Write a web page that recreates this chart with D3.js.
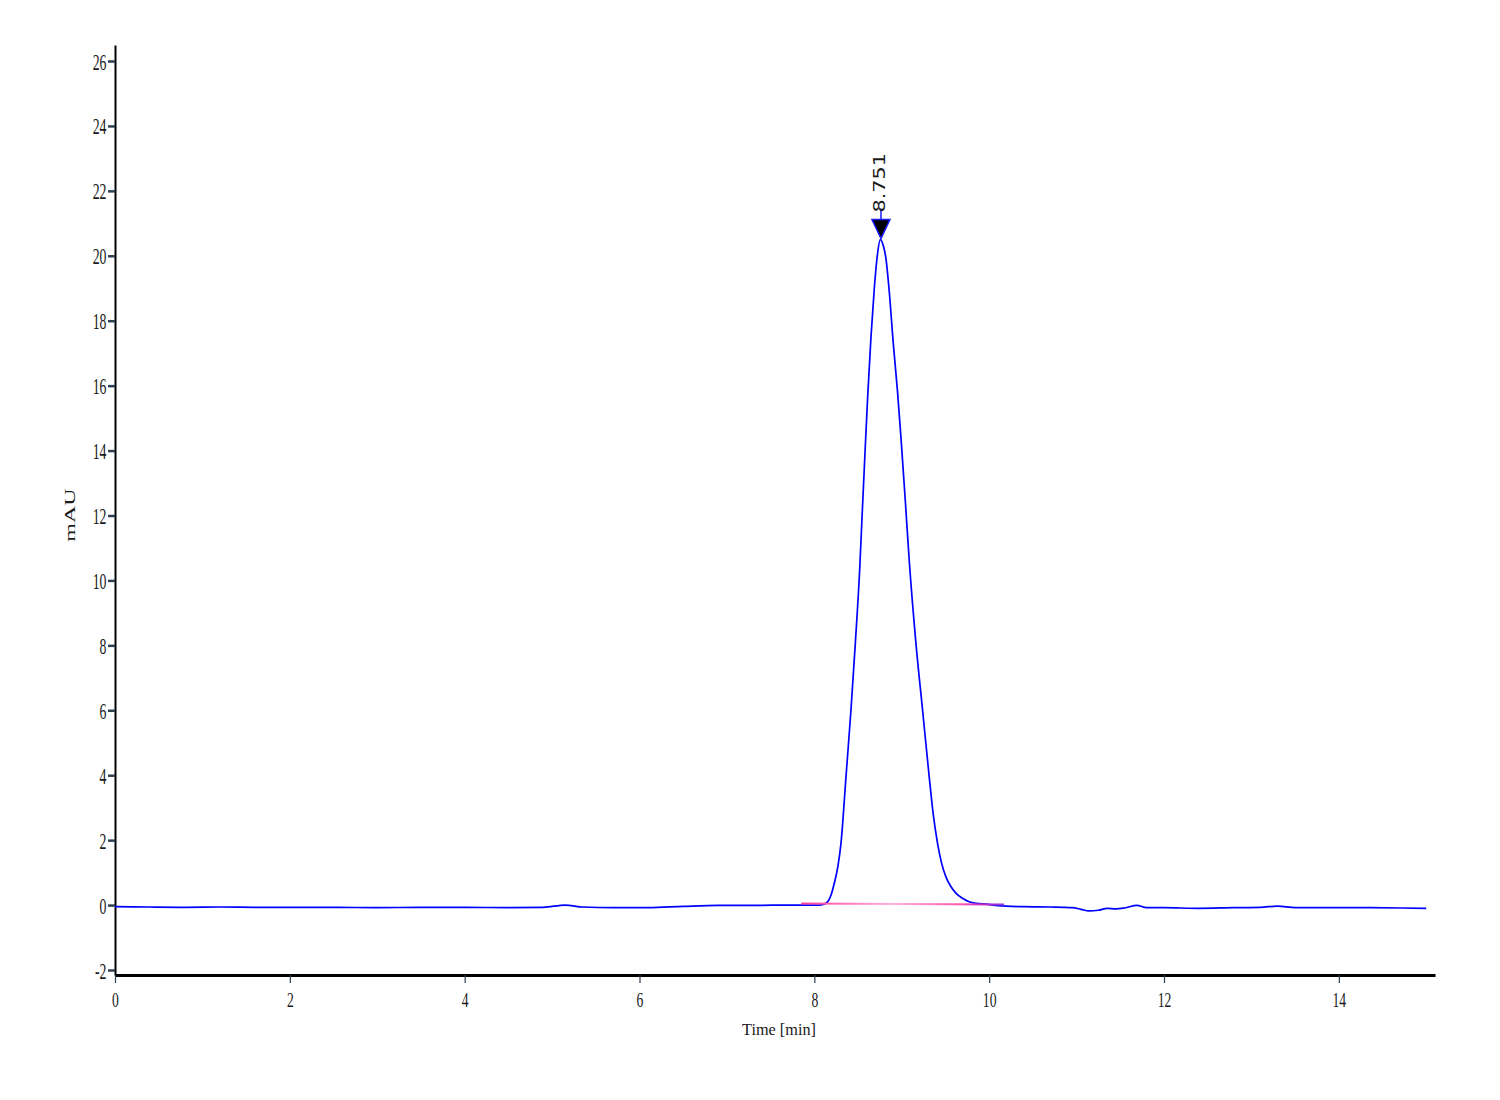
<!DOCTYPE html>
<html>
<head>
<meta charset="utf-8">
<script src="https://cdn.jsdelivr.net/npm/d3@7.9.0/dist/d3.min.js"></script>
<style>
  body { margin: 0; background: #fff; }
  text { font-family: "Liberation Serif", "Times New Roman", serif; fill: #1a1a1a; }
</style>
</head>
<body>
<div id="chart"></div>
<script>
// chromatogram signal (time in min, signal in mAU)
const times = [
  0, 0.4, 0.8, 1.2, 1.6, 2.0, 2.5, 3.0, 3.5, 4.0, 4.5, 4.9, 5.15, 5.35, 5.7, 6.1, 6.5, 6.9, 7.3, 7.7, 7.95,
  8.05, 8.1, 8.152, 8.19, 8.229, 8.27, 8.305, 8.362, 8.419, 8.469, 8.518, 8.545, 8.579, 8.609, 8.648, 8.686,
  8.72, 8.755, 8.79, 8.82, 8.857, 8.903, 8.952, 8.991, 9.037, 9.086, 9.162, 9.238, 9.314, 9.36, 9.409,
  9.455, 9.505, 9.56, 9.619, 9.7, 9.771, 9.86, 9.962,
  10.1, 10.4, 10.7, 10.95, 11.05, 11.14, 11.25, 11.35, 11.45, 11.55, 11.69, 11.8, 12.0, 12.4, 12.8, 13.1,
  13.3, 13.5, 13.9, 14.3, 14.7, 15.0
];
const signal = [
  -0.05, -0.06, -0.07, -0.06, -0.07, -0.07, -0.07, -0.08, -0.07, -0.07, -0.08, -0.07, 0.0, -0.06, -0.08, -0.08, -0.04, -0.01, -0.01, 0.0, 0.0,
  0.0, 0.02, 0.10, 0.3, 0.68, 1.2, 1.91, 3.95, 6.01, 8.07, 10.3, 11.9, 13.9, 15.6, 17.5, 19.0,
  20.0, 20.5, 20.3, 19.9, 18.9, 17.3, 15.8, 14.4, 12.6, 10.6, 8.07, 6.01, 3.95, 2.8, 1.91,
  1.3, 0.87, 0.58, 0.37, 0.2, 0.1, 0.05, 0.03,
  -0.02, -0.05, -0.06, -0.08, -0.13, -0.18, -0.16, -0.1, -0.12, -0.09, -0.01, -0.08, -0.08, -0.1, -0.08, -0.07,
  -0.03, -0.08, -0.08, -0.08, -0.09, -0.1
];

// integration baseline under the peak
const baseTimes = [7.85, 10.17];
const baseValues = [0.05, 0.02];

// peak annotation
const peakTime = 8.751;
const peakHeight = 20.5;
const peakLabel = "8.751";

const xTicks = [0, 2, 4, 6, 8, 10, 12, 14];
const yTicks = [-2, 0, 2, 4, 6, 8, 10, 12, 14, 16, 18, 20, 22, 24, 26];

const width = 1500, height = 1100;

const svg = d3.select("#chart")
  .append("svg")
  .attr("width", width)
  .attr("height", height);

const x = d3.scaleLinear().domain([0, 15.1]).range([115, 1435]);
const y = d3.scaleLinear().domain([-2, 26]).range([970, 61]);
// stretch the y domain so the axis line runs 45..975 like the picture
y.domain([y.invert(975), y.invert(45)]).range([975, 45]);

// x axis
const xAxis = svg.append("g")
  .attr("transform", "translate(0,975)")
  .call(d3.axisBottom(x).tickValues(xTicks).tickFormat(d => String(d)).tickSize(8).tickSizeOuter(0));
xAxis.select(".domain").attr("stroke", "#000").attr("stroke-width", 3);
xAxis.selectAll(".tick line").attr("stroke", "#2f3f4f").attr("stroke-width", 1.2);
xAxis.selectAll(".tick text")
  .attr("y", null).attr("dy", null)
  .attr("transform", "translate(0,32) scale(0.62,1)")
  .style("font-size", "22px")
  .attr("fill", "#1a1a1a");

// y axis
const yAxis = svg.append("g")
  .attr("transform", "translate(115,0)")
  .call(d3.axisLeft(y).tickValues(yTicks).tickFormat(d => String(d)).tickSize(7).tickSizeOuter(0));
yAxis.select(".domain").attr("stroke", "#000").attr("stroke-width", 2);
yAxis.selectAll(".tick line").attr("stroke", "#2f3f4f").attr("stroke-width", 2.5);
yAxis.selectAll(".tick text")
  .attr("x", null).attr("dy", null)
  .attr("transform", "translate(-8.5,8) scale(0.6,1)")
  .style("font-size", "23px")
  .attr("fill", "#1a1a1a");

// axis titles
svg.append("text")
  .attr("transform", "translate(779,1035) scale(0.93,1)")
  .attr("text-anchor", "middle")
  .style("font-size", "17.5px")
  .text("Time [min]");

svg.append("text")
  .attr("transform", "translate(74.5,515) rotate(-90) scale(1.6,1)")
  .attr("text-anchor", "middle")
  .style("font-size", "15px")
  .text("mAU");

// signal trace
const pts = times.map((t, i) => [t, signal[i]]);
const line = d3.line()
  .x(d => x(d[0]))
  .y(d => y(d[1]))
  .curve(d3.curveMonotoneX);

svg.append("path")
  .datum(pts)
  .attr("d", line)
  .attr("fill", "none")
  .attr("stroke", "#0000ff")
  .attr("stroke-width", 1.7);

// integration baseline (pink)
const grad = svg.append("defs").append("linearGradient")
  .attr("id", "baseGrad")
  .attr("gradientUnits", "userSpaceOnUse")
  .attr("x1", x(baseTimes[0])).attr("x2", x(baseTimes[1]))
  .attr("y1", 0).attr("y2", 0);
[[0, "#ff3d9e"], [0.45, "#ffb3da"], [0.78, "#ff5aae"], [0.9, "#c026c8"], [1, "#8a3ae0"]]
  .forEach(([o, c]) => grad.append("stop").attr("offset", o).attr("stop-color", c));

svg.append("path")
  .datum(baseTimes.map((t, i) => [t, baseValues[i]]))
  .attr("d", d3.line().x(d => x(d[0])).y(d => y(d[1])))
  .attr("fill", "none")
  .attr("stroke", "url(#baseGrad)")
  .attr("stroke-width", 2);

// peak marker
const px = x(peakTime) + 1, py = y(peakHeight);
svg.append("path")
  .attr("d", `M${px - 9},${py - 20} L${px + 9},${py - 20} L${px},${py - 1} Z`)
  .attr("fill", "#000")
  .attr("stroke", "#1a1aff")
  .attr("stroke-width", 1.5);
svg.append("line")
  .attr("x1", px).attr("x2", px)
  .attr("y1", py - 31).attr("y2", py - 20)
  .attr("stroke", "#1a1aff")
  .attr("stroke-width", 1.5);

svg.append("text")
  .attr("transform", `translate(${px + 4.5},${py - 27}) rotate(-90) scale(1.3,1)`)
  .attr("text-anchor", "start")
  .style("font-size", "16px")
  .style("font-family", "'DejaVu Sans', sans-serif")
  .text(peakLabel);
</script>
</body>
</html>
